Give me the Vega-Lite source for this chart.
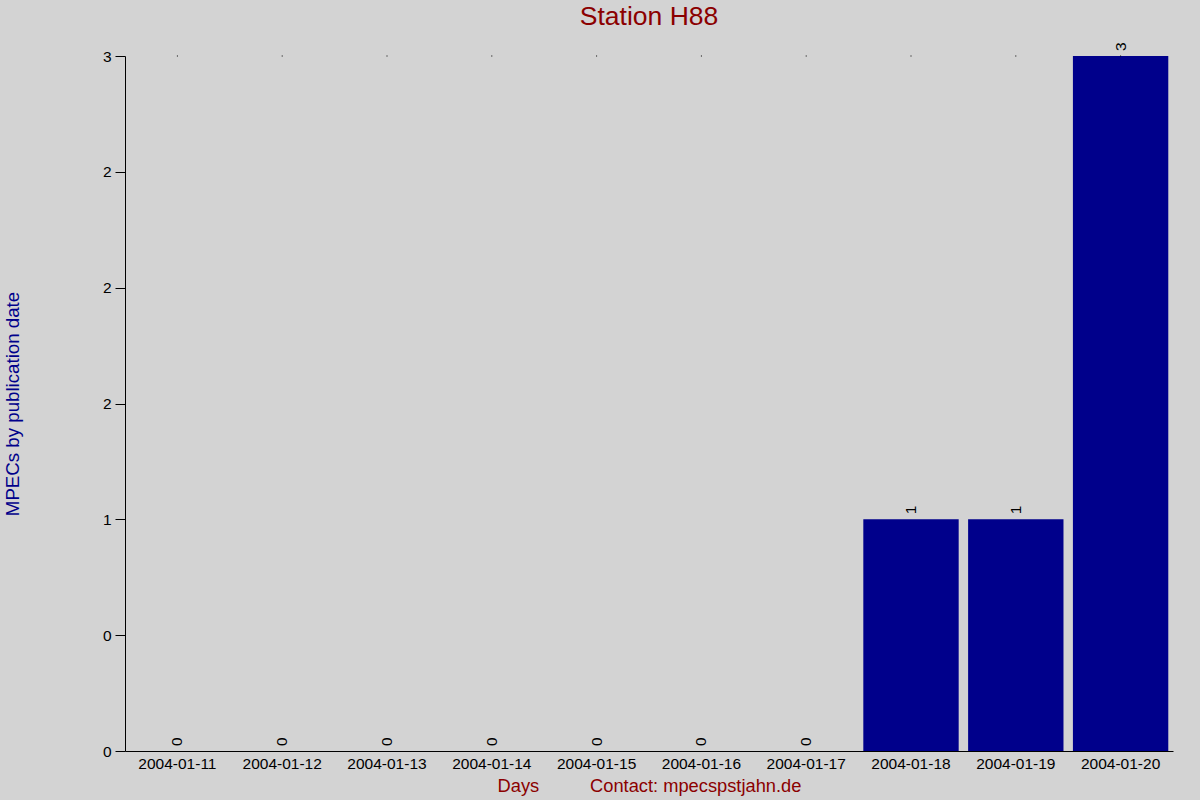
{
  "$schema": "https://vega.github.io/schema/vega-lite/v6.json",
  "autosize": "none",
  "width": 1048,
  "height": 695,
  "padding": {"left": 125, "top": 56, "right": 27, "bottom": 49},
  "background": "#d3d3d3",
  "config": {
    "view": {"stroke": null},
    "font": "Liberation Sans"
  },
  "title": {
    "text": "Station H88",
    "fontSize": 26.5,
    "fontWeight": "normal",
    "color": "#8b0000",
    "offset": 12,
    "anchor": "middle"
  },
  "data": {
    "values": [
      {"day": "2004-01-11", "count": 0},
      {"day": "2004-01-12", "count": 0},
      {"day": "2004-01-13", "count": 0},
      {"day": "2004-01-14", "count": 0},
      {"day": "2004-01-15", "count": 0},
      {"day": "2004-01-16", "count": 0},
      {"day": "2004-01-17", "count": 0},
      {"day": "2004-01-18", "count": 1},
      {"day": "2004-01-19", "count": 1},
      {"day": "2004-01-20", "count": 3}
    ]
  },
  "encoding": {
    "x": {
      "field": "day",
      "type": "nominal",
      "sort": null,
      "scale": {"paddingInner": 0.09, "paddingOuter": 0.045},
      "axis": {
        "title": "Days\u00a0\u00a0\u00a0\u00a0\u00a0\u00a0\u00a0\u00a0\u00a0\u00a0Contact: mpecspstjahn.de",
        "titleColor": "#8b0000",
        "titleFontSize": 18.3,
        "titleFontWeight": "normal",
        "titlePadding": 6,
        "labelAngle": 0,
        "labelFontSize": 15.5,
        "labelColor": "black",
        "labelPadding": 5,
        "ticks": false,
        "domainColor": "black",
        "grid": false
      }
    }
  },
  "layer": [
    {
      "mark": {"type": "bar", "color": "#00008b"},
      "encoding": {
        "y": {
          "field": "count",
          "type": "quantitative",
          "scale": {"domain": [0, 3], "nice": false},
          "axis": {
            "title": "MPECs by publication date",
            "titleColor": "#00008b",
            "titleFontSize": 18.7,
            "titleFontWeight": "normal",
            "titlePadding": 80,
            "values": [0, 0.5, 1, 1.5, 2, 2.5, 3],
            "labelExpr": "datum.value == 0.5 ? '0' : datum.value == 1.5 ? '2' : datum.value == 2.5 ? '2' : format(datum.value, 'd')",
            "labelFontSize": 15.5,
            "labelColor": "black",
            "labelPadding": 4,
            "tickSize": 10,
            "tickColor": "black",
            "domainColor": "black",
            "grid": false
          }
        }
      }
    },
    {
      "mark": {"type": "square", "color": "black", "size": 1, "opacity": 1},
      "encoding": {"y": {"datum": 3}}
    },
    {
      "mark": {
        "type": "text",
        "angle": 270,
        "align": "left",
        "baseline": "middle",
        "dx": 5,
        "fontSize": 15.5,
        "color": "black"
      },
      "encoding": {
        "y": {"field": "count", "type": "quantitative"},
        "text": {"field": "count", "type": "quantitative"}
      }
    }
  ]
}
